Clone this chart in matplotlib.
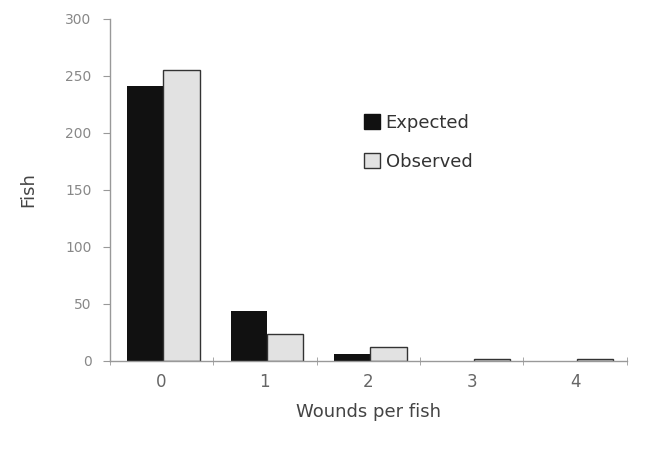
import matplotlib
matplotlib.use("Agg")
import matplotlib.pyplot as plt
import numpy as np
from matplotlib.patches import Patch

categories = ["0", "1", "2", "3", "4"]
expected = [241, 44, 6, 0, 0]
observed = [255, 24, 12, 2, 2]
y_ticks = [0, 50, 100, 150, 200, 250, 300]

fig = plt.figure(figsize=(6.49, 4.61), dpi=100)
ax = fig.add_axes([0.169, 0.217, 0.797, 0.742])

x = np.arange(len(categories))
w = 0.35
ax.bar(x - w/2 + 0.02, expected, width=w, color="#111111", linewidth=0)
ax.bar(x + w/2 + 0.02, observed, width=w, color="#e2e2e2", edgecolor="#333333", linewidth=1)

ax.set_xlim(-0.5, len(categories) - 0.5)
ax.set_ylim(0, 300)
ax.set_yticks(y_ticks)
ax.set_yticklabels([str(v) for v in y_ticks], color="#888888", fontsize=10)
ax.set_xticks(x)
ax.set_xticklabels(categories, color="#666666", fontsize=12)
ax.tick_params(axis="x", length=0, pad=9)
ax.set_xticks(np.arange(-0.5, len(categories), 1.0), minor=True)
ax.tick_params(axis="x", which="minor", length=6, color="#999999", direction="inout")
ax.tick_params(axis="y", length=5, color="#999999", direction="out", pad=8)

for s in ["top", "right"]:
    ax.spines[s].set_visible(False)
for s in ["left", "bottom"]:
    ax.spines[s].set_color("#999999")
    ax.spines[s].set_linewidth(1)

ax.set_ylabel("Fish", fontsize=13, color="#444444", labelpad=20)
ax.set_xlabel("Wounds per fish", fontsize=13, color="#444444", labelpad=8)

handles = [Patch(facecolor="#111111", edgecolor="#111111", label="Expected"),
           Patch(facecolor="#e2e2e2", edgecolor="#333333", label="Observed")]
ax.legend(handles=handles, loc="upper left", bbox_to_anchor=(0.46, 0.77),
          frameon=False, fontsize=13, handlelength=0.9, handleheight=0.9,
          handletextpad=0.3, labelspacing=1.15, labelcolor="#333333")

fig.savefig("out.png", dpi=100)
